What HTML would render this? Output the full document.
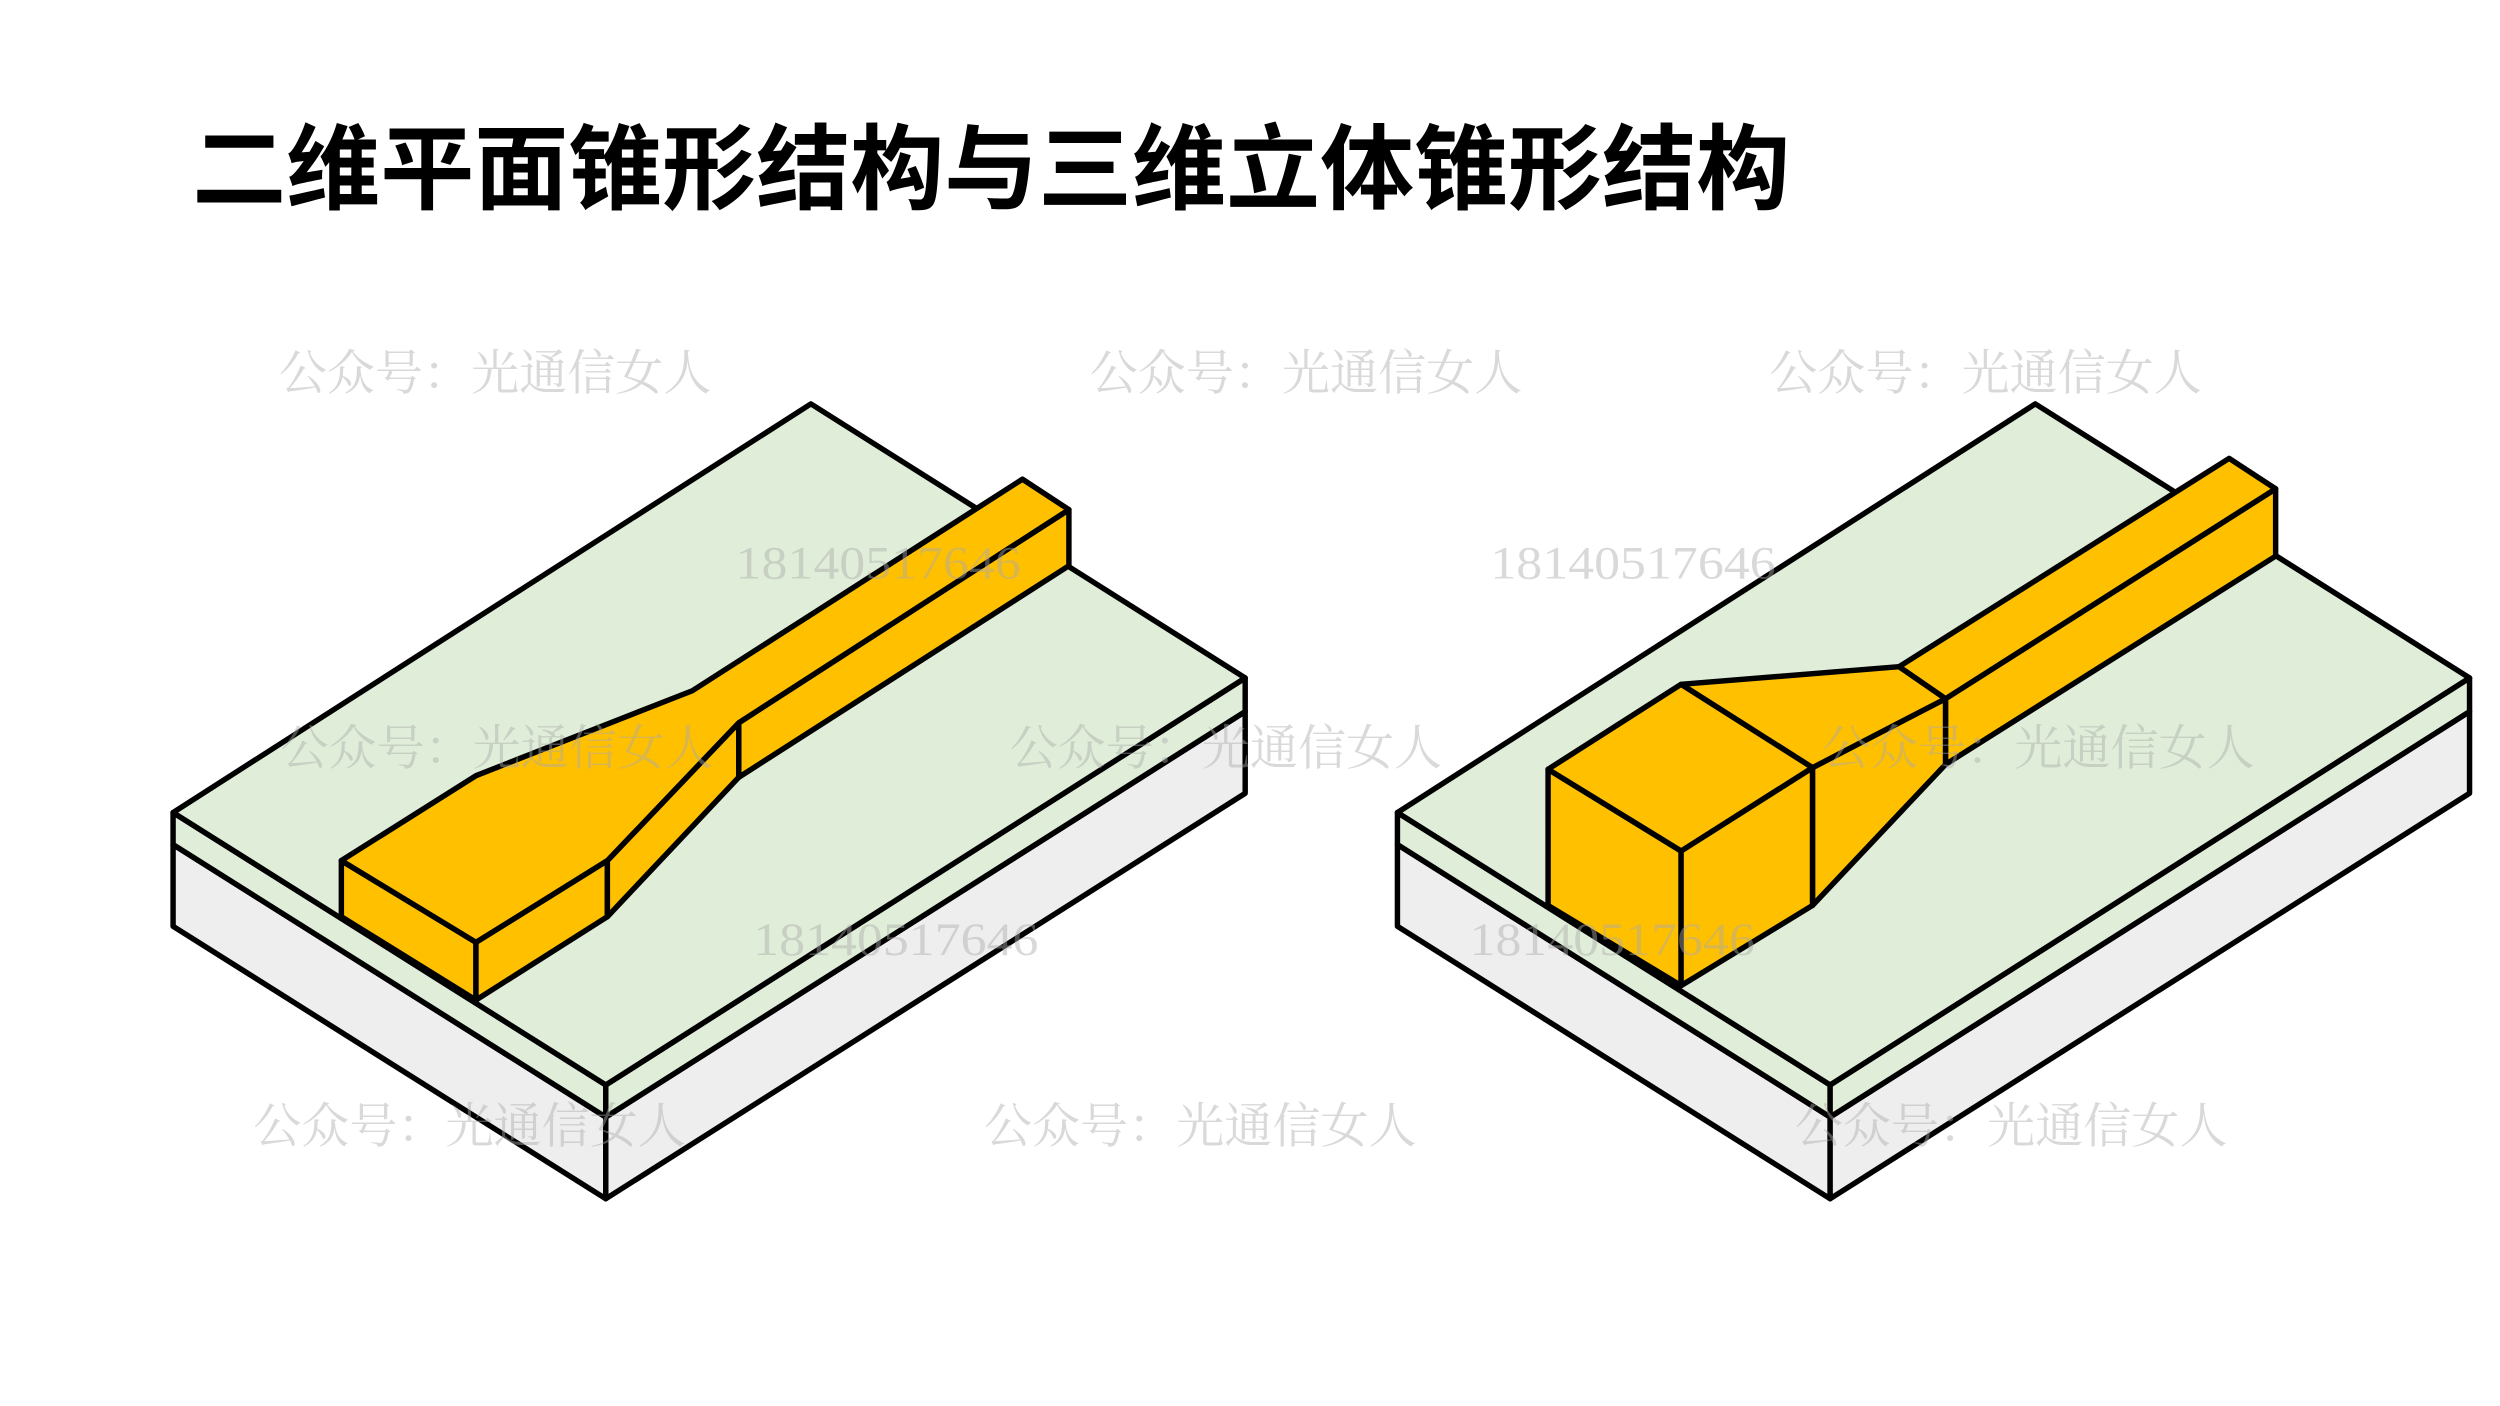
<!DOCTYPE html>
<html><head><meta charset="utf-8"><style>html,body{margin:0;padding:0;background:#fff;}svg{display:block}</style></head>
<body>
<svg width="2500" height="1406" viewBox="0 0 1560 877.3" xmlns="http://www.w3.org/2000/svg">
<rect width="1560" height="878" fill="#fff"/>
<text x="120" y="126" font-family="'Liberation Sans','Noto Sans CJK SC',sans-serif" font-weight="bold" font-size="58" fill="#000" textLength="997" lengthAdjust="spacingAndGlyphs">二维平面锥形结构与三维立体锥形结构</text>
<g stroke="#000" stroke-width="3.4" stroke-linejoin="round">
<polygon points="108,527 378,697 378,748 108,578" fill="#eeeeee"/>
<polygon points="378,697 777,444 777,495 378,748" fill="#eeeeee"/>
<polygon points="108,507 378,677 378,697 108,527" fill="#e0eed9"/>
<polygon points="378,677 777,423 777,444 378,697" fill="#e0eed9"/>
<polygon points="108,507 506,252 777,423 378,677" fill="#e0eed9"/>
<polygon points="213,537 297,588 297,624 213,572" fill="#ffc000"/>
<polygon points="297,588 379,537 379,572 297,624" fill="#ffc000"/>
<polygon points="379,537 461,451 461,485 379,572" fill="#ffc000"/>
<polygon points="461,451 667,318 667,353 461,485" fill="#ffc000"/>
<polygon points="213,537 297,484 432,431 638,299 667,318 461,451 379,537 297,588" fill="#ffc000"/>
<polygon points="872,527 1142,697 1142,748 872,578" fill="#eeeeee"/>
<polygon points="1142,697 1541,444 1541,495 1142,748" fill="#eeeeee"/>
<polygon points="872,507 1142,677 1142,697 872,527" fill="#e0eed9"/>
<polygon points="1142,677 1541,423 1541,444 1142,697" fill="#e0eed9"/>
<polygon points="872,507 1270,252 1541,423 1142,677" fill="#e0eed9"/>
<polygon points="1214,436 1420,305 1420,347 1214,477" fill="#ffc000"/>
<polygon points="1185,416 1391,286 1420,305 1214,436" fill="#ffc000"/>
<polygon points="1131,479 1214,436 1214,477 1131,565" fill="#ffc000"/>
<polygon points="1049,427 1185,416 1214,436 1131,479" fill="#ffc000"/>
<polygon points="966,480 1049,531 1049,615 966,565" fill="#ffc000"/>
<polygon points="1049,531 1131,479 1131,565 1049,615" fill="#ffc000"/>
<polygon points="966,480 1049,427 1131,479 1049,531" fill="#ffc000"/>
</g>
<g font-family="'Liberation Serif','Noto Serif CJK SC',serif" fill="#aaaaaa" fill-opacity="0.45" font-size="30">
<text x="174" y="243">公众号：光通信女人</text>
<text x="680" y="243">公众号：光通信女人</text>
<text x="1104" y="243">公众号：光通信女人</text>
<text x="175" y="477">公众号：光通信女人</text>
<text x="630" y="477">公众号：光通信女人</text>
<text x="1137" y="477">公众号：光通信女人</text>
<text x="158" y="713">公众号：光通信女人</text>
<text x="614" y="713">公众号：光通信女人</text>
<text x="1120" y="713">公众号：光通信女人</text>
<text x="459" y="361" font-size="29" textLength="178" lengthAdjust="spacingAndGlyphs">18140517646</text>
<text x="930" y="361" font-size="29" textLength="178" lengthAdjust="spacingAndGlyphs">18140517646</text>
<text x="470" y="596" font-size="29" textLength="178" lengthAdjust="spacingAndGlyphs">18140517646</text>
<text x="917" y="596" font-size="29" textLength="178" lengthAdjust="spacingAndGlyphs">18140517646</text>
</g>
</svg>
</body></html>
